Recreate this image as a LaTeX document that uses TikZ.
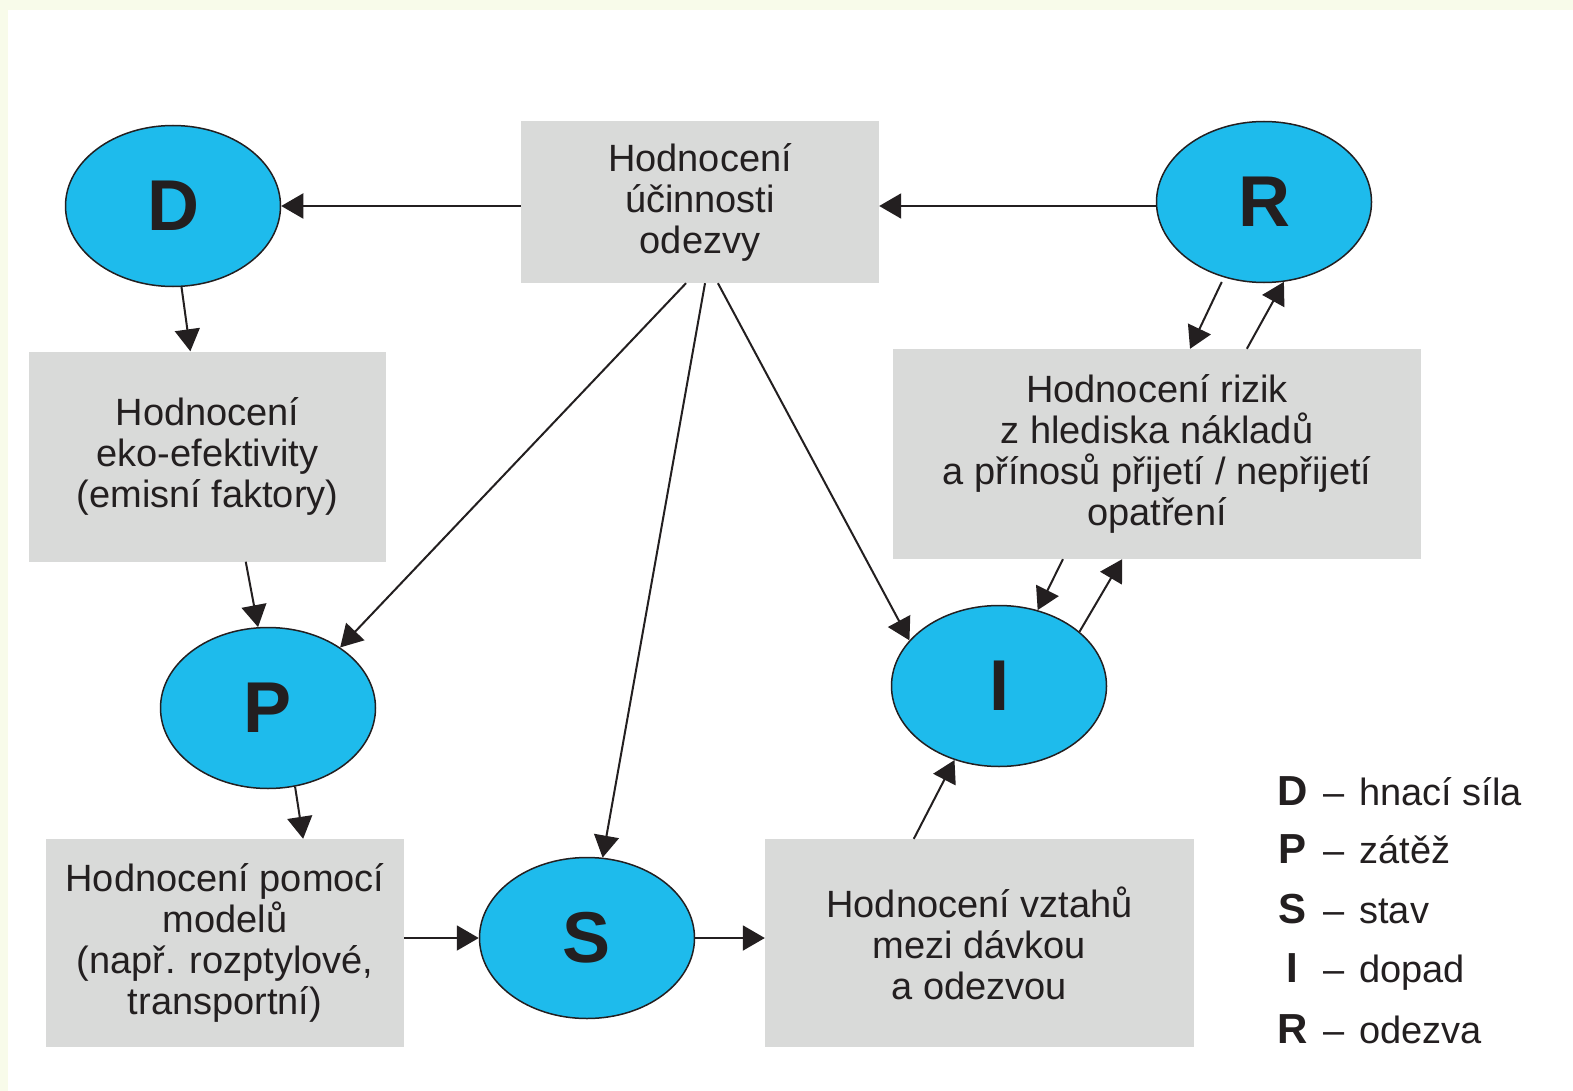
\documentclass[tikz,border=0pt]{standalone}
\usepackage{fontspec}
\setmainfont{Liberation Sans}
\usetikzlibrary{arrows.meta,shapes.geometric,calc}
\definecolor{cream}{HTML}{F8FBEA}
\definecolor{skyfill}{HTML}{1EBBEC}
\definecolor{boxgray}{HTML}{D9DAD9}
\definecolor{ink}{HTML}{231F20}
\tikzset{
  ell/.style={ellipse,draw=ink,line width=1.5pt,fill=skyfill,inner sep=0pt,
    minimum width=215pt,minimum height=161pt,
    font=\fontsize{72}{72}\selectfont\bfseries,text=ink},
  gbox/.style={rectangle,fill=boxgray,inner sep=0pt,align=center,
    font=\fontsize{38}{41}\selectfont,text=ink},
  arr/.style={draw=ink,line width=2pt,-{Triangle[length=22pt,width=25pt]}},
  leg/.style={anchor=base west,inner sep=0pt,font=\fontsize{38}{38}\selectfont,text=ink}
}
\newcommand{\legrow}[2]{\makebox[28pt][c]{\fontsize{42}{42}\selectfont\bfseries #1}\hspace{17pt}–\hspace{15pt}#2}
\begin{document}
\begin{tikzpicture}[x=1pt,y=-1pt]
\fill[cream] (0,0) rectangle (1573,1091);
\fill[white] (8,10) rectangle (1573,1091);
\useasboundingbox (0,0) rectangle (1573,1091);

% boxes
\node[gbox,minimum width=358pt,minimum height=162pt] (top) at (700,202) {Hodnocení\\účinnosti\\odezvy};
\node[gbox,minimum width=357pt,minimum height=210pt] (eko) at (207.5,456.5) {Hodnocení\\eko-efektivity\\(emisní faktory)};
\node[gbox,minimum width=528pt,minimum height=210pt] (rizik) at (1157,454) {Hodnocení rizik\\z hlediska nákladů\\a přínosů přijetí / nepřijetí\\opatření};
\node[gbox,minimum width=358pt,minimum height=208pt] (model) at (225,943) {Hodnocení pomocí\\modelů\\(např. rozptylové,\\transportní)};
\node[gbox,minimum width=429pt,minimum height=208pt] (vz) at (979.5,943) {Hodnocení vztahů\\mezi dávkou\\a odezvou};

% ellipses
\node[ell] (D) at (173,206) {D};
\node[ell] (R) at (1264,202) {R};
\node[ell] (P) at (268,708) {P};
\node[ell] (S) at (587,938) {S};
\node[ell] (I) at (999,686) {I};

% connectors
\draw[arr] (top.west |- D.east) -- (D.east);
\draw[arr] (R.west |- D.east) -- (R.west |- D.east -| top.east);
\draw[arr] (D.-84) -- ($(eko.north west)!0.452!(eko.north east)$);
\draw[arr] ($(eko.south west)!0.607!(eko.south east)$) -- (P.97);
\draw[arr] (P.-71) -- ($(model.north west)!0.718!(model.north east)$);
\draw[arr] (model.east |- S.west) -- (S.west);
\draw[arr] (S.east) -- (S.east -| vz.west);
\draw[arr] ($(vz.north west)!0.347!(vz.north east)$) -- (I.-121);
\draw[arr] (I.34) -- ($(rizik.south west)!0.434!(rizik.south east)$);
\draw[arr] ($(rizik.south west)!0.322!(rizik.south east)$) -- (I.63);
\draw[arr,shorten <=5pt] (R.-118) -- ($(rizik.north west)!0.5625!(rizik.north east)$);
\draw[arr] ($(rizik.north west)!0.670!(rizik.north east)$) -- (R.-76);
\draw[arr] ($(top.south west)!0.461!(top.south east)$) -- (P.40);
\draw[arr] ($(top.south west)!0.514!(top.south east)$) -- (S.79);
\draw[arr] ($(top.south west)!0.550!(top.south east)$) -- (I.153);

% legend
\node[leg] (lD) at (1278,805) {\legrow{D}{hnací síla}};
\node[leg] (lP) at (1278,863) {\legrow{P}{zátěž}};
\node[leg] (lS) at (1278,923) {\legrow{S}{stav}};
\node[leg] (lI) at (1278,982) {\legrow{I}{dopad}};
\node[leg] (lR) at (1278,1043) {\legrow{R}{odezva}};
\end{tikzpicture}
\end{document}
